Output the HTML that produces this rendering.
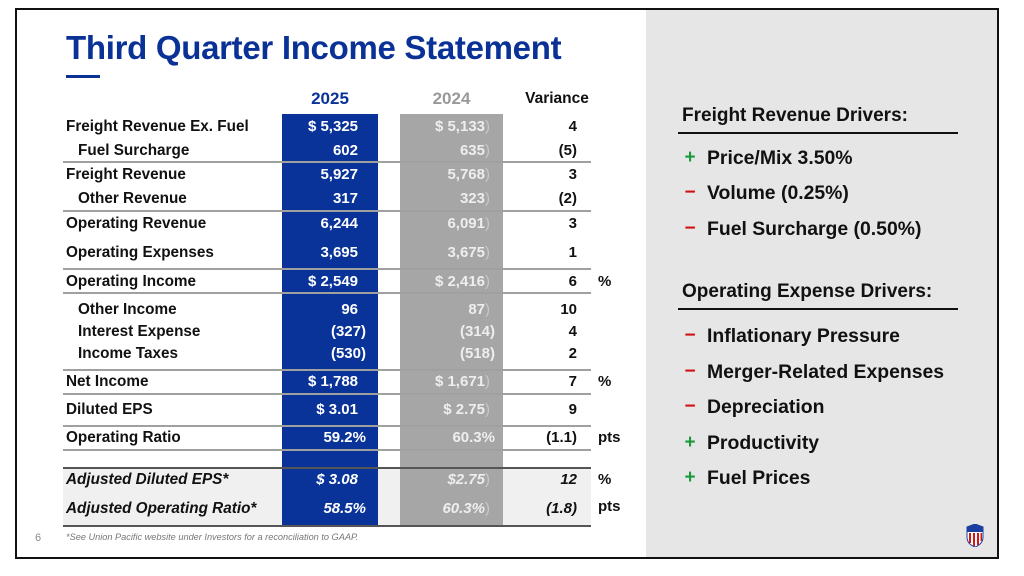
<!DOCTYPE html>
<html><head><meta charset="utf-8"><style>
*{margin:0;padding:0;box-sizing:border-box}
body{width:1024px;height:576px;background:#fff;position:relative;overflow:hidden;font-family:"Liberation Sans",Arial,sans-serif;font-weight:bold;color:#111}
.a{position:absolute;white-space:nowrap}
.lab{left:66px;font-size:15.3px;line-height:18px}
.ind{left:78px}
.bv{width:80px;left:278px;text-align:right;color:#fff;font-size:15px;line-height:18px}
.gv{width:90px;left:400px;text-align:right;color:#eee;font-size:15px;line-height:18px}
.gv i{font-style:normal;color:#c8c8c8;font-weight:normal}
.vv{width:60px;left:517px;text-align:right;font-size:15px;line-height:18px}
.un{left:598px;font-size:15px;line-height:18px}
.ln{position:absolute;left:63px;width:528px;height:2px;background:#a0a0a0}
.it{font-style:italic}
.h{left:682px;font-size:19px;line-height:22px;color:#111}
.r{left:707px;font-size:19.4px;line-height:22px}
.s{left:684px;font-size:19px;line-height:22px;width:12px;text-align:center}
.p{color:#1a9a3a}.m{color:#d01010}
</style></head><body>
<div class="a" style="left:15px;top:8px;width:984px;height:551px;border:2px solid #111"></div>
<div class="a" style="left:646px;top:10px;width:351px;height:547px;background:#e6e6e6"></div>
<div class="a" style="left:66px;top:28px;font-size:33px;line-height:40px;color:#0a3296;letter-spacing:-0.3px">Third Quarter Income Statement</div>
<div class="a" style="left:66px;top:75px;width:34px;height:3px;background:#0a3296"></div>

<div class="a" style="left:63px;top:468px;width:528px;height:58px;background:#f0f0f0"></div>
<div class="a" style="left:282px;top:114px;width:96px;height:412px;background:#0a3399"></div>
<div class="a" style="left:400px;top:114px;width:103px;height:412px;background:#a6a6a6"></div>

<div class="ln" style="top:161px"></div>
<div class="ln" style="top:210px"></div>
<div class="ln" style="top:268px"></div>
<div class="ln" style="top:292px"></div>
<div class="ln" style="top:369px"></div>
<div class="ln" style="top:393px"></div>
<div class="ln" style="top:425px"></div>
<div class="ln" style="top:449px"></div>
<div class="ln" style="top:467px;background:#555"></div>
<div class="ln" style="top:525px;background:#555"></div>

<div class="a" style="left:282px;width:96px;top:89px;text-align:center;font-size:17px;color:#0a3399">2025</div>
<div class="a" style="left:400px;width:103px;top:89px;text-align:center;font-size:17px;color:#999">2024</div>
<div class="a" style="left:515px;width:84px;top:90px;text-align:center;font-size:15.5px">Variance</div>

<div class="a lab" style="top:118px">Freight Revenue Ex. Fuel</div><div class="a bv" style="top:118px">$ 5,325</div><div class="a gv" style="top:118px">$ 5,133<i>)</i></div><div class="a vv" style="top:118px">4</div>
<div class="a lab ind" style="top:142px">Fuel Surcharge</div><div class="a bv" style="top:142px">602</div><div class="a gv" style="top:142px">635<i>)</i></div><div class="a vv" style="top:142px">(5)</div>
<div class="a lab" style="top:166px">Freight Revenue</div><div class="a bv" style="top:166px">5,927</div><div class="a gv" style="top:166px">5,768<i>)</i></div><div class="a vv" style="top:166px">3</div>
<div class="a lab ind" style="top:190px">Other Revenue</div><div class="a bv" style="top:190px">317</div><div class="a gv" style="top:190px">323<i>)</i></div><div class="a vv" style="top:190px">(2)</div>
<div class="a lab" style="top:215px">Operating Revenue</div><div class="a bv" style="top:215px">6,244</div><div class="a gv" style="top:215px">6,091<i>)</i></div><div class="a vv" style="top:215px">3</div>
<div class="a lab" style="top:244px">Operating Expenses</div><div class="a bv" style="top:244px">3,695</div><div class="a gv" style="top:244px">3,675<i>)</i></div><div class="a vv" style="top:244px">1</div>
<div class="a lab" style="top:273px">Operating Income</div><div class="a bv" style="top:273px">$ 2,549</div><div class="a gv" style="top:273px">$ 2,416<i>)</i></div><div class="a vv" style="top:273px">6</div><div class="a un" style="top:273px">%</div>
<div class="a lab ind" style="top:301px">Other Income</div><div class="a bv" style="top:301px">96</div><div class="a gv" style="top:301px">87<i>)</i></div><div class="a vv" style="top:301px">10</div>
<div class="a lab ind" style="top:323px">Interest Expense</div><div class="a bv" style="top:323px;left:286px">(327)</div><div class="a gv" style="top:323px;left:405px">(314)</div><div class="a vv" style="top:323px">4</div>
<div class="a lab ind" style="top:345px">Income Taxes</div><div class="a bv" style="top:345px;left:286px">(530)</div><div class="a gv" style="top:345px;left:405px">(518)</div><div class="a vv" style="top:345px">2</div>
<div class="a lab" style="top:373px">Net Income</div><div class="a bv" style="top:373px">$ 1,788</div><div class="a gv" style="top:373px">$ 1,671<i>)</i></div><div class="a vv" style="top:373px">7</div><div class="a un" style="top:373px">%</div>
<div class="a lab" style="top:401px">Diluted EPS</div><div class="a bv" style="top:401px">$ 3.01</div><div class="a gv" style="top:401px">$ 2.75<i>)</i></div><div class="a vv" style="top:401px">9</div>
<div class="a lab" style="top:429px">Operating Ratio</div><div class="a bv" style="top:429px;left:286px">59.2%</div><div class="a gv" style="top:429px;left:405px">60.3%</div><div class="a vv" style="top:429px">(1.1)</div><div class="a un" style="top:429px">pts</div>
<div class="a lab it" style="top:471px">Adjusted Diluted EPS*</div><div class="a bv it" style="top:471px">$ 3.08</div><div class="a gv it" style="top:471px">$2.75<i>)</i></div><div class="a vv it" style="top:471px">12</div><div class="a un" style="top:471px">%</div>
<div class="a lab it" style="top:500px">Adjusted Operating Ratio*</div><div class="a bv it" style="top:500px;left:286px">58.5%</div><div class="a gv it" style="top:500px">60.3%<i>)</i></div><div class="a vv it" style="top:500px">(1.8)</div><div class="a un" style="top:498px">pts</div>

<div class="a" style="left:35px;top:532px;font-size:11px;color:#888;font-weight:normal">6</div>
<div class="a" style="left:66px;top:532px;font-size:9.2px;color:#777;font-weight:normal;font-style:italic">*See Union Pacific website under Investors for a reconciliation to GAAP.</div>

<div class="a h" style="top:105px">Freight Revenue Drivers:</div>
<div class="a" style="left:678px;top:132px;width:280px;height:2px;background:#111"></div>
<div class="a s p" style="top:147px">+</div><div class="a r" style="top:147px">Price/Mix 3.50%</div>
<div class="a s m" style="top:182px">−</div><div class="a r" style="top:182px">Volume (0.25%)</div>
<div class="a s m" style="top:218px">−</div><div class="a r" style="top:218px">Fuel Surcharge (0.50%)</div>
<div class="a h" style="top:281px">Operating Expense Drivers:</div>
<div class="a" style="left:678px;top:308px;width:280px;height:2px;background:#111"></div>
<div class="a s m" style="top:325px">−</div><div class="a r" style="top:325px">Inflationary Pressure</div>
<div class="a s m" style="top:361px">−</div><div class="a r" style="top:361px">Merger-Related Expenses</div>
<div class="a s m" style="top:396px">−</div><div class="a r" style="top:396px">Depreciation</div>
<div class="a s p" style="top:432px">+</div><div class="a r" style="top:432px">Productivity</div>
<div class="a s p" style="top:467px">+</div><div class="a r" style="top:467px">Fuel Prices</div>

<svg class="a" style="left:965px;top:524px" width="20" height="23" viewBox="0 0 20 23">
<path d="M2 3 L10 0 L18 3 L18 13 Q18 20 10 23 Q2 20 2 13 Z" fill="#fff" stroke="#1a3fa0" stroke-width="1"/>
<path d="M2 3 L10 0 L18 3 L18 8 L2 8 Z" fill="#1a3fa0"/>
<g fill="#d01818"><rect x="4" y="9" width="2" height="10"/><rect x="8" y="9" width="2" height="13"/><rect x="12" y="9" width="2" height="12"/><rect x="15.5" y="9" width="1.5" height="8"/></g>
</svg>
</body></html>
